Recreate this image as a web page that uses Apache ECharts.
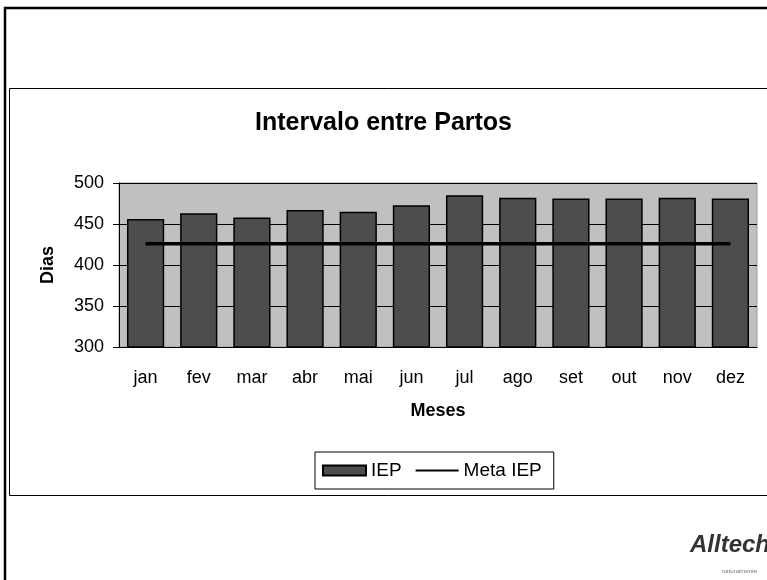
<!DOCTYPE html>
<html>
<head>
<meta charset="utf-8">
<script src="https://cdn.jsdelivr.net/npm/echarts@6/dist/echarts.min.js"></script>
<style>
html, body { margin: 0; padding: 0; background: #fff; }
#chart { width: 767px; height: 580px; }
</style>
</head>
<body>
<div id="chart"></div>
<script>
var meses = ['jan', 'fev', 'mar', 'abr', 'mai', 'jun', 'jul', 'ago', 'set', 'out', 'nov', 'dez'];
var iep = [456, 463, 458, 467, 465, 473, 485, 482, 481, 481, 482, 481];
var metaIep = [426, 426, 426, 426, 426, 426, 426, 426, 426, 426, 426, 426];

var chart = echarts.init(document.getElementById('chart'));
var font = 'Liberation Sans, Arial, sans-serif';
var option = {
    animation: false,
    textStyle: { fontFamily: font },
    title: {
        text: 'Intervalo entre Partos',
        left: 'center',
        top: 106,
        textStyle: { fontSize: 25, fontWeight: 'bold', color: '#000', fontFamily: font }
    },
    graphic: [
        { type: 'rect', shape: { x: 5, y: 8, width: 780, height: 600 }, style: { fill: 'none', stroke: '#000', lineWidth: 2.5 }, z: -10 },
        { type: 'rect', shape: { x: 9.5, y: 88.5, width: 780, height: 407 }, style: { fill: 'none', stroke: '#000', lineWidth: 1 }, z: -10 },
        { type: 'text', left: 690, top: 533, style: { text: 'Alltech', fontSize: 24, fontWeight: 'bold', fontStyle: 'italic', fill: '#333', fontFamily: font } },
        { type: 'text', left: 722, top: 568, style: { text: 'naturalmente', fontSize: 6, fontStyle: 'italic', fill: '#777', fontFamily: font } }
    ],
    legend: {
        data: [
            { name: 'IEP', icon: 'rect' },
            { name: 'Meta IEP', icon: 'path://M0,0 H45 V2 H0 Z' }
        ],
        left: 315,
        top: 452,
        itemWidth: 43,
        itemHeight: 10,
        itemGap: 14,
        padding: [9, 12, 9, 7],
        borderColor: '#000',
        borderWidth: 1,
        textStyle: { fontSize: 19, color: '#000', fontFamily: font }
    },
    grid: {
        left: 119, right: 10, top: 183, bottom: 233,
        show: true,
        backgroundColor: '#c0c0c0',
        borderColor: '#999',
        borderWidth: 1
    },
    xAxis: [
        {
            type: 'category',
            data: meses,
            position: 'bottom',
            name: 'Meses',
            nameLocation: 'middle',
            nameGap: 55,
            nameTextStyle: { fontSize: 18, fontWeight: 'bold', color: '#000' },
            axisLine: { lineStyle: { color: '#000', width: 1 } },
            axisTick: { length: 7, lineStyle: { color: '#000' } },
            axisLabel: { fontSize: 18, color: '#000', margin: 22 }
        },
        {
            type: 'category',
            data: meses,
            position: 'bottom',
            axisLine: { show: false },
            axisTick: { inside: true, length: 6, lineStyle: { color: '#000' } },
            axisLabel: { show: false }
        }
    ],
    yAxis: {
        type: 'value',
        min: 300,
        max: 500,
        interval: 50,
        name: 'Dias',
        nameLocation: 'middle',
        nameGap: 62,
        nameTextStyle: { fontSize: 18, fontWeight: 'bold', color: '#000' },
        axisLine: { show: true, lineStyle: { color: '#000', width: 1 } },
        axisTick: { show: true, length: 6, lineStyle: { color: '#000' } },
        axisLabel: { fontSize: 18, color: '#000', margin: 15 },
        splitLine: { lineStyle: { color: '#000', width: 1 } }
    },
    series: [
        {
            name: 'IEP',
            type: 'bar',
            data: iep,
            barCategoryGap: '30%',
            itemStyle: { color: '#4d4d4d', borderColor: '#000', borderWidth: 1.5 }
        },
        {
            name: 'Meta IEP',
            type: 'line',
            data: metaIep,
            symbol: 'none',
            lineStyle: { color: '#000', width: 3.5 },
            itemStyle: { color: '#000' },
            z: 5
        }
    ]
};
chart.setOption(option);
</script>
</body>
</html>
